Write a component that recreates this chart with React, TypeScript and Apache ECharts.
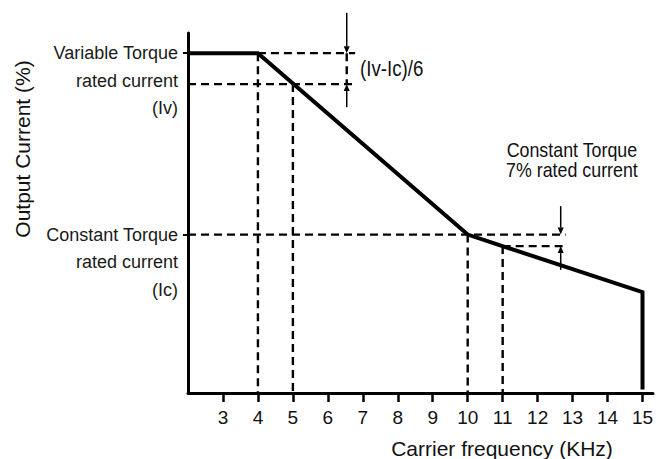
import React, { useEffect, useRef } from "react";
import * as echarts from "echarts";

// ---- data ----
const xMin = 2;
const xMax = 15.3;
const yMin = 0;
const yMax = 100;
const xTicks = [3, 4, 5, 6, 7, 8, 9, 10, 11, 12, 13, 14, 15];

const Iv = 94.4; // Variable torque rated current level
const Ic = 44; // Constant torque rated current level
const ivStep = 85.8; // level at 5 kHz
const icStep = 40.8; // level at 11 kHz

const currentCurve: number[][] = [
  [2, Iv],
  [4, Iv],
  [10, Ic],
  [15, 28],
  [15, 1],
];

const yTickValues = [Iv, Ic];
const yTickLabels = [
  "Variable Torque\nrated current\n(Iv)",
  "Constant Torque\nrated current\n(Ic)",
];

// dashed guide segments [x1, y1, x2, y2]
const guides: number[][] = [
  [4, Iv, 6.78, Iv],
  [2, ivStep, 6.82, ivStep],
  [6.54, Iv, 6.54, ivStep],
  [4, Iv, 4, 0],
  [5, ivStep, 5, 0],
  [2, Ic, 12.8, Ic],
  [11, icStep, 12.84, icStep],
  [10, Ic, 10, 0],
  [11, icStep, 11, 0],
];

// arrows [x, yFrom, yTo]
const arrows: number[][] = [
  [6.54, 105.6, Iv],
  [6.54, 79.4, ivStep],
  [12.66, 51.9, Ic],
  [12.66, 34.2, icStep],
];

// annotations
const noteX = [6.92, 12.98];
const noteY = [90.2, 65];
const noteTexts = ["(Iv-Ic)/6", "Constant Torque\n7% rated current"];
const noteAlign = ["left", "center"];
const noteSize = [22, 21];

const xName = "Carrier frequency (KHz)";
const yName = "Output Current (%)";

const FONT = "'Liberation Sans', Arial, Helvetica, sans-serif";

export default function App() {
  const ref = useRef<HTMLDivElement>(null);

  useEffect(() => {
    if (!ref.current) return;
    const chart = echarts.init(ref.current, undefined, { renderer: "svg" });

    const option: any = {
      animation: false,
      backgroundColor: "#ffffff",
      textStyle: { fontFamily: FONT },
      grid: {
        left: 188,
        right: 3,
        top: 33,
        bottom: 66,
        containLabel: false,
        outerBoundsMode: "none",
      },
      xAxis: {
        type: "value",
        min: xMin,
        max: xMax,
        interval: 1,
        splitLine: { show: false },
        axisLine: { show: true, lineStyle: { color: "#000", width: 3 } },
        axisTick: {
          show: true,
          customValues: xTicks,
          length: 9,
          inside: false,
          lineStyle: { color: "#000", width: 2.5 },
        },
        axisLabel: {
          customValues: xTicks,
          margin: 15,
          color: "#111",
          fontSize: 19,
          fontFamily: FONT,
          formatter: (v: number) => String(v),
        },
      },
      yAxis: {
        type: "value",
        min: yMin,
        max: yMax,
        splitLine: { show: false },
        axisLine: { show: true, lineStyle: { color: "#000", width: 3 } },
        axisTick: {
          show: true,
          customValues: yTickValues,
          length: 5,
          lineStyle: { color: "#000", width: 2 },
        },
        axisLabel: {
          customValues: yTickValues,
          margin: 10,
          color: "#1a1a1a",
          fontSize: 18,
          lineHeight: 27.5,
          align: "right",
          verticalAlign: "middle",
          fontFamily: FONT,
          formatter: (v: number) => {
            const i = yTickValues.indexOf(v);
            return i >= 0 ? "\n\n" + yTickLabels[i] : "";
          },
        },
      },
      graphic: [
        {
          type: "text",
          x: 22,
          y: 149,
          rotation: Math.PI / 2,
          style: {
            text: yName,
            fill: "#111",
            font: "21px " + FONT,
            align: "center",
            verticalAlign: "middle",
          },
        },
        {
          type: "text",
          x: 502,
          y: 448,
          style: {
            text: xName,
            fill: "#111",
            font: "21px " + FONT,
            align: "center",
            verticalAlign: "middle",
          },
        },
      ],
      series: [
        {
          type: "custom",
          name: "guides",
          z: 2,
          data: guides,
          renderItem: (params: any, api: any) => {
            const p1 = api.coord([api.value(0), api.value(1)]);
            const p2 = api.coord([api.value(2), api.value(3)]);
            return {
              type: "line",
              shape: { x1: p1[0], y1: p1[1], x2: p2[0], y2: p2[1] },
              style: { stroke: "#000", lineWidth: 2.4, lineDash: [8, 5], fill: null },
            };
          },
        },
        {
          type: "custom",
          name: "arrows",
          z: 3,
          data: arrows,
          renderItem: (params: any, api: any) => {
            const p1 = api.coord([api.value(0), api.value(1)]);
            const p2 = api.coord([api.value(0), api.value(2)]);
            const dir = p2[1] > p1[1] ? 1 : -1;
            const head = 7;
            const hw = 3;
            return {
              type: "group",
              children: [
                {
                  type: "line",
                  shape: { x1: p1[0], y1: p1[1], x2: p2[0], y2: p2[1] - dir * head },
                  style: { stroke: "#000", lineWidth: 1.5 },
                },
                {
                  type: "polygon",
                  shape: {
                    points: [
                      [p2[0], p2[1]],
                      [p2[0] - hw, p2[1] - dir * head],
                      [p2[0] + hw, p2[1] - dir * head],
                    ],
                  },
                  style: { fill: "#000" },
                },
              ],
            };
          },
        },
        {
          type: "custom",
          name: "notes",
          z: 4,
          data: noteX.map((x, i) => [x, noteY[i]]),
          renderItem: (params: any, api: any) => {
            const i = params.dataIndex;
            const p = api.coord([api.value(0), api.value(1)]);
            return {
              type: "text",
              x: p[0],
              y: p[1],
              scaleX: 0.85,
              style: {
                text: noteTexts[i],
                fill: "#111",
                font: noteSize[i] + "px " + FONT,
                lineHeight: 20,
                align: noteAlign[i],
                verticalAlign: "middle",
              },
            };
          },
        },
        {
          type: "line",
          name: "Output current",
          z: 5,
          data: currentCurve,
          symbol: "none",
          lineStyle: { color: "#000", width: 4, join: "miter" },
        },
      ],
    };

    chart.setOption(option);
    return () => chart.dispose();
  }, []);

  return (
    <div
      ref={ref}
      style={{ position: "fixed", left: 0, top: 0, width: 656, height: 459, background: "#fff" }}
    />
  );
}
